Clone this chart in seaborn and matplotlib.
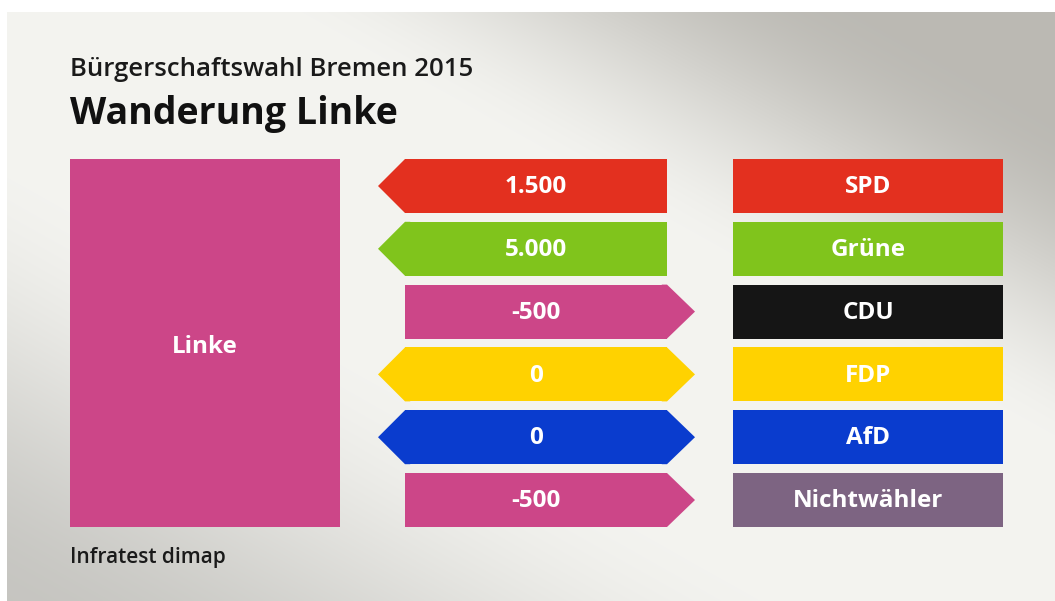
import numpy as np
import pandas as pd
import matplotlib.pyplot as plt
import seaborn as sns
from matplotlib.patches import Polygon, Rectangle

# data
parties = ['SPD', 'Grüne', 'CDU', 'FDP', 'AfD', 'Nichtwähler']
values = [1500, 5000, -500, 0, 0, -500]
value_labels = ['1.500', '5.000', '-500', '0', '0', '-500']
party_colors = ['#e3301f', '#80c41c', '#151515', '#ffd200', '#0a3cce', '#7d6482']
linke_color = '#cc4688'
focus = 'Linke'
subtitle = 'Bürgerschaftswahl Bremen 2015'
title = 'Wanderung Linke'
source = 'Infratest dimap'

W, H = 1055, 601
sns.set_theme(style='white')
plt.rcParams['font.family'] = ['Open Sans', 'DejaVu Sans']


def frac(x0, y0, x1, y1):
    # pixel box -> figure fraction
    return [x0 / W, 1 - y1 / H, (x1 - x0) / W, (y1 - y0) / H]


fig = plt.figure(figsize=(W / 100, H / 100), dpi=100, facecolor='white')

# background with a light diagonal band
bg = fig.add_axes([0, 0, 1, 1])
bg.set_xlim(0, W)
bg.set_ylim(H, 0)
bg.axis('off')
yy, xx = np.mgrid[0:H, 0:W].astype(float)
s = (xx * H - yy * W) / np.hypot(W, H)
tp = np.clip((s - 130) / 300, 0, 1)
tn = np.clip((-s - 120) / 420, 0, 1)
tp = tp * tp * (3 - 2 * tp)
tn = tn * tn * (3 - 2 * tn)
light = np.array([0.955, 0.955, 0.94])
dark_tr = np.array([0.735, 0.728, 0.705])
dark_bl = np.array([0.775, 0.772, 0.755])
img = light * (1 - tp - tn)[..., None] + dark_tr * tp[..., None] + dark_bl * tn[..., None]
bg.imshow(img, extent=(7, W, H, 12), aspect='auto', zorder=0)

# focus party block
bg.add_patch(Rectangle((70, 159), 270, 368, color=linke_color, lw=0, zorder=2))
bg.text(205, 347, focus, color='white', fontsize=17.5, fontweight='bold',
        ha='center', va='center', zorder=3)

# titles
bg.text(70, 70, subtitle, fontsize=18.5, fontweight='semibold', color='#1a1a1a', va='center')
bg.text(70, 114, title, fontsize=27, fontweight='bold', color='#111111', va='center')
bg.text(70, 558, source, fontsize=15, fontweight='semibold', color='#1a1a1a', va='center')

bar_h = 54 / 62.8
pad = bar_h / 2

# party boxes
axp = fig.add_axes(frac(733, 159, 1003, 527))
dfp = pd.DataFrame({'party': parties, 'box': [1] * len(parties)})
sns.barplot(data=dfp, x='box', y='party', hue='party', palette=party_colors,
            legend=False, width=bar_h, saturation=1, linewidth=0, ax=axp)
axp.set_xlim(0, 1)
axp.set_ylim(len(parties) - 1 + pad, -pad)
axp.axis('off')
for i, p in enumerate(parties):
    axp.text(0.5, i + 0.02, p, color='white', fontsize=17.5, fontweight='bold',
             ha='center', va='center')

# arrows: positive = gain for Linke (points left), negative = loss (points right)
arrow_colors = [c if v >= 0 else linke_color for v, c in zip(values, party_colors)]
tip_l, tip_r = 27 / 262, 28 / 262
axa = fig.add_axes(frac(378, 159, 695, 527))
dfa = pd.DataFrame({'party': parties, 'body': [1] * len(parties)})
sns.barplot(data=dfa, x='body', y='party', hue='party', palette=arrow_colors,
            legend=False, width=bar_h, saturation=1, linewidth=0, ax=axa)
axa.set_xlim(-tip_l, 1 + tip_r)
axa.set_ylim(len(parties) - 1 + pad, -pad)
axa.axis('off')
for i, (v, c, lab) in enumerate(zip(values, arrow_colors, value_labels)):
    if v >= 0:
        axa.add_patch(Polygon([(0.02, i - pad), (0, i - pad), (-tip_l, i),
                               (0, i + pad), (0.02, i + pad)],
                              closed=True, color=c, lw=0))
    if v <= 0:
        axa.add_patch(Polygon([(0.98, i - pad), (1, i - pad), (1 + tip_r, i),
                               (1, i + pad), (0.98, i + pad)],
                              closed=True, color=c, lw=0))
    axa.text(0.5, i + 0.02, lab, color='white', fontsize=17.5, fontweight='bold',
             ha='center', va='center')

fig.savefig('out.png', dpi=100, facecolor='white')
